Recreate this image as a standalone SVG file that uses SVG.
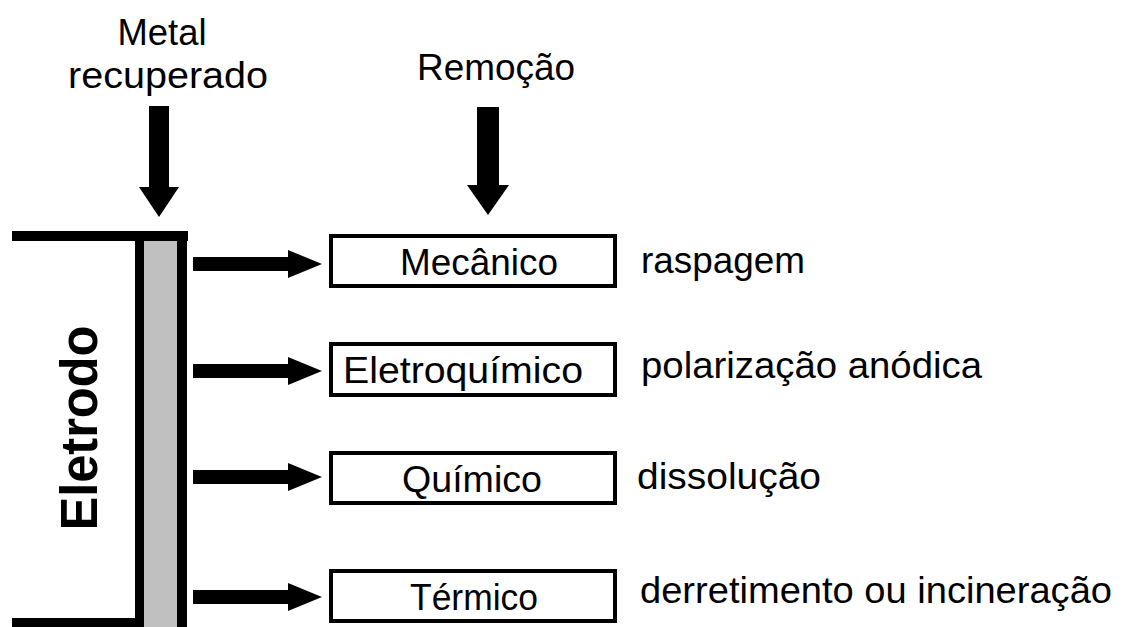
<svg xmlns="http://www.w3.org/2000/svg" width="1123" height="627" viewBox="0 0 1123 627">
<style>
.t{font-family:"Liberation Sans",Arial,sans-serif;fill:#000}
.lbl{font-size:36px}
.side{font-size:37px}
.box{fill:#fff;stroke:#000;stroke-width:4}
.arr{fill:#000}
</style>
<rect width="1123" height="627" fill="#fff"/>
<g id="electrode">
<rect x="144" y="241" width="33" height="386" fill="#c0c0c0"/>
<rect x="12" y="231" width="176" height="10" fill="#000"/>
<rect x="135" y="231" width="9" height="396" fill="#000"/>
<rect x="177" y="231" width="10" height="396" fill="#000"/>
<rect x="12" y="618" width="128" height="9" fill="#000"/>
<text class="t" x="97" y="428" font-size="51" font-weight="bold" text-anchor="middle" textLength="205" lengthAdjust="spacingAndGlyphs" transform="rotate(-90 97 428)">Eletrodo</text>
</g>
<g id="label-metal">
<text class="t side" x="162" y="45" text-anchor="middle" textLength="89" lengthAdjust="spacingAndGlyphs">Metal</text>
<text class="t side" x="168" y="88" text-anchor="middle" textLength="200" lengthAdjust="spacingAndGlyphs">recuperado</text>
</g>
<g id="label-remocao">
<text class="t side" x="496" y="80" text-anchor="middle" textLength="158" lengthAdjust="spacingAndGlyphs">Remoção</text>
</g>
<g id="mecanico">
<rect class="box" x="331" y="236" width="284" height="50"/>
<text class="t lbl" x="479" y="275" text-anchor="middle" textLength="158" lengthAdjust="spacingAndGlyphs">Mecânico</text>
<text class="t side" x="641" y="273" textLength="164" lengthAdjust="spacingAndGlyphs">raspagem</text>
</g>
<g id="eletroquimico">
<rect class="box" x="331" y="344" width="284" height="51"/>
<text class="t lbl" x="463" y="383" text-anchor="middle" textLength="240" lengthAdjust="spacingAndGlyphs">Eletroquímico</text>
<text class="t side" x="641" y="378" textLength="341" lengthAdjust="spacingAndGlyphs">polarização anódica</text>
</g>
<g id="quimico">
<rect class="box" x="331" y="453" width="284" height="50"/>
<text class="t lbl" x="472" y="492" text-anchor="middle" textLength="140" lengthAdjust="spacingAndGlyphs">Químico</text>
<text class="t side" x="637" y="489" textLength="184" lengthAdjust="spacingAndGlyphs">dissolução</text>
</g>
<g id="termico">
<rect class="box" x="331" y="571" width="284" height="50"/>
<text class="t lbl" x="474" y="610" text-anchor="middle" textLength="128" lengthAdjust="spacingAndGlyphs">Térmico</text>
<text class="t side" x="640" y="603" textLength="472" lengthAdjust="spacingAndGlyphs">derretimento ou incineração</text>
</g>
<g id="connectors">
<polygon class="arr" points="149,106 169,106 169,187 179,187 159,217 139,187 149,187"/>
<polygon class="arr" points="477,107 499,107 499,185 509,185 488,215 467,185 477,185"/>
<polygon class="arr" points="193,257 288,257 288,250 322,264 288,278 288,271 193,271"/>
<polygon class="arr" points="193,364 288,364 288,357 322,371 288,385 288,378 193,378"/>
<polygon class="arr" points="193,470 288,470 288,463 322,477 288,491 288,484 193,484"/>
<polygon class="arr" points="193,590 288,590 288,583 322,597 288,611 288,604 193,604"/>
</g>
</svg>
